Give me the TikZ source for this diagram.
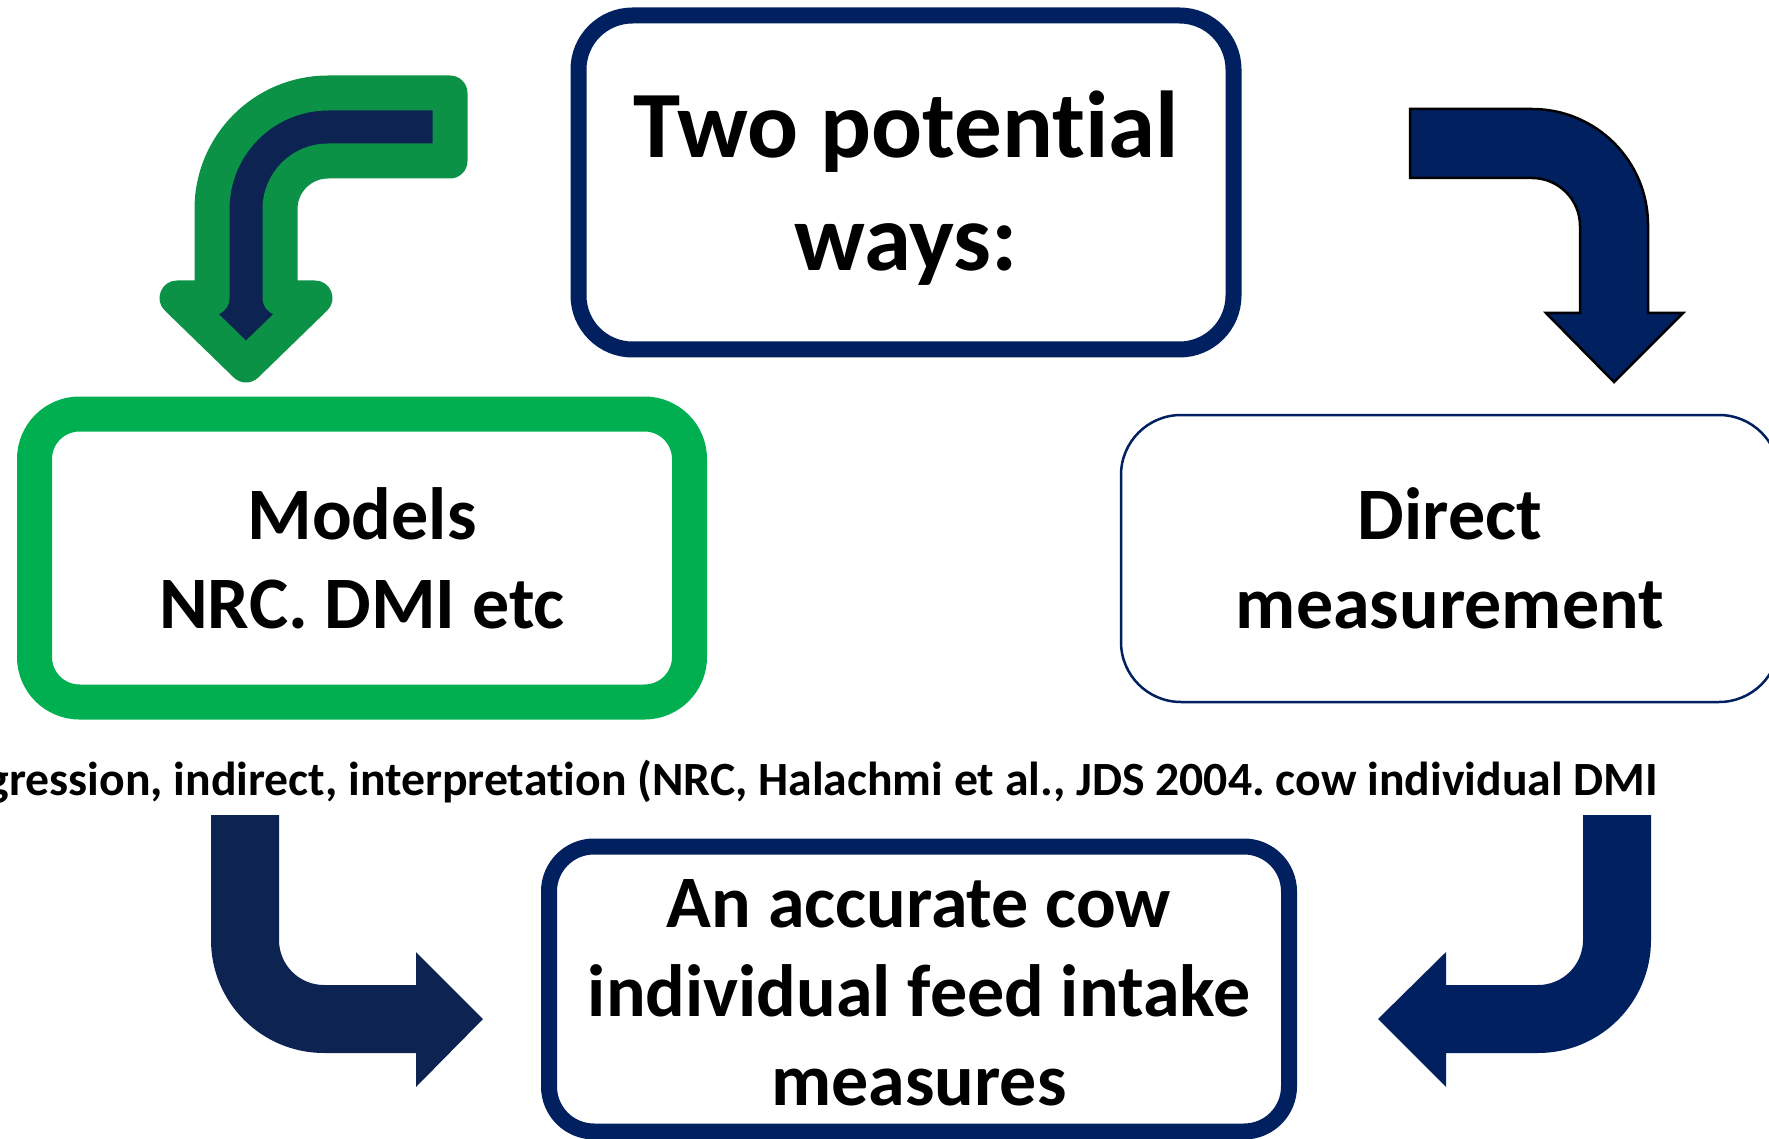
\documentclass[tikz,border=0pt]{standalone}
\usepackage{fontspec}
\setmainfont{Carlito}[Ligatures={NoCommon,NoContextual}]
\usetikzlibrary{calc}
\frenchspacing
\definecolor{navy}{HTML}{002060}
\definecolor{darknavy}{HTML}{0D2352}
\definecolor{boxgreen}{HTML}{00B050}
\definecolor{arrowgreen}{HTML}{0C9247}
\tikzset{
  waysbox/.style={draw=navy,line width=16pt,rounded corners=54pt,align=center,inner sep=0pt,
    font=\bfseries\fontsize{95}{113}\selectfont},
  modelbox/.style={draw=boxgreen,line width=35pt,rounded corners=45pt,align=center,inner sep=0pt,
    font=\bfseries\fontsize{74}{89}\selectfont},
  directbox/.style={draw=navy,line width=2.5pt,rounded corners=60pt,align=center,inner sep=0pt,
    font=\bfseries\fontsize{74}{89}\selectfont},
  resultbox/.style={draw=navy,line width=16pt,rounded corners=45pt,align=center,inner sep=0pt,
    font=\bfseries\fontsize{74}{89}\selectfont},
  bentarrow/.style={fill=#1,draw=none},
  outlinearrow/.style={fill=navy,draw=black,line width=2.5pt},
  pickarrow/.style={fill=darknavy,draw=arrowgreen,line width=35pt,line join=round}
}
\begin{document}
\begin{tikzpicture}[x=1pt,y=-1pt]
\useasboundingbox (0,0) rectangle (1769,1139);
\node[waysbox,minimum width=655pt,minimum height=334pt](ways)at(906,182.5){};
\node[font=\bfseries\fontsize{95}{113}\selectfont,align=center,anchor=base](waystext)at(906,271){Two potential\\ways:};
\node[modelbox,minimum width=655pt,minimum height=288pt](models)at(362,558){Models\\NRC. DMI etc};
\node[directbox,minimum width=658pt,minimum height=287pt](direct)at(1450,558.5){Direct\\measurement};
\node[resultbox,minimum width=740pt,minimum height=285pt](result)at(919,989){};
\node[font=\bfseries\fontsize{74}{89}\selectfont,align=center,anchor=base](resulttext)at(919,1105)
  {An accurate cow\\individual feed intake\\measures};
\node[anchor=base east,inner sep=0pt,font=\bfseries\fontsize{47.7}{56}\selectfont](note)at(1658,795)
  {gression, indirect, interpretation (NRC, Halachmi et al., JDS 2004. cow individual DMI};
\filldraw[pickarrow](450,93)--(328,93)arc[start angle=90,end angle=180,radius=116pt]--(212,298)--(177,298)
  --(246,365)--(315,298)--(280,298)--(280,209)arc[start angle=180,end angle=90,radius=48pt]--(450,161)--cycle;
\filldraw[outlinearrow](1410,109)--(1532,109)arc[start angle=90,end angle=0,radius=116pt]--(1648,313)--(1683,313)
  --(1614,382)--(1546,313)--(1580,313)--(1580,226)arc[start angle=0,end angle=90,radius=48pt]--(1410,178)--cycle;
\fill[bentarrow=darknavy](211,815)--(211,940)arc[start angle=180,end angle=270,radius=113pt]--(416,1053)--(416,1087)
  --(483,1019)--(416,952)--(416,985)--(324,985)arc[start angle=270,end angle=180,radius=45pt]--(279,815)--cycle;
\fill[bentarrow=navy](1651,815)--(1651,940)arc[start angle=0,end angle=-90,radius=113pt]--(1446,1053)--(1446,1087)
  --(1378,1019)--(1446,952)--(1446,985)--(1538,985)arc[start angle=-90,end angle=0,radius=45pt]--(1583,815)--cycle;
\end{tikzpicture}
\end{document}
